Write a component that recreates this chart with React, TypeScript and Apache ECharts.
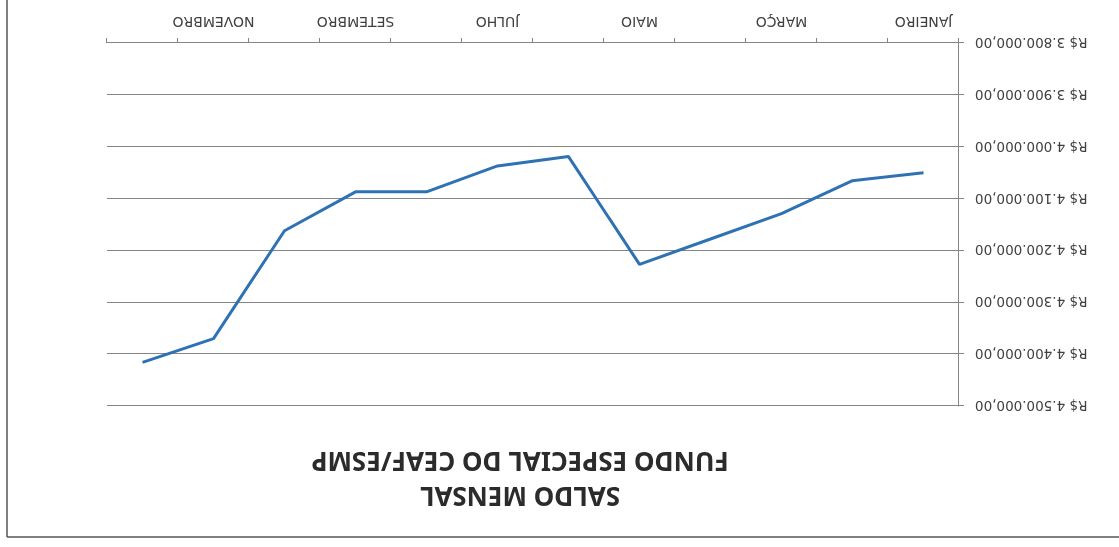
import React, { useEffect, useRef } from "react";
import * as echarts from "echarts";

const months = [
  "JANEIRO", "FEVEREIRO", "MARÇO", "ABRIL", "MAIO", "JUNHO",
  "JULHO", "AGOSTO", "SETEMBRO", "OUTUBRO", "NOVEMBRO", "DEZEMBRO",
];
const saldo = [
  4050000, 4065500, 4129000, 4178000, 4227000, 4019000,
  4037000, 4087000, 4087000, 4162000, 4370000, 4416000,
];
const titleLines = ["SALDO MENSAL", "FUNDO ESPECIAL DO CEAF/ESMP"];
const yMin = 3800000;
const yMax = 4500000;
const yStep = 100000;

function fmtBRL(v: number): string {
  const s = Math.round(v).toString();
  const withDots = s.replace(/\B(?=(\d{3})+(?!\d))/g, ".");
  return "R$ " + withDots + ",00";
}

export default function App() {
  const ref = useRef<HTMLDivElement>(null);
  useEffect(() => {
    if (!ref.current) return;
    const chart = echarts.init(ref.current, undefined, { renderer: "svg" });
    const axisGray = "#858585";
    chart.setOption({
      animation: false,
      backgroundColor: "#ffffff",
      grid: { left: 160, right: 107, top: 141, bottom: 43, containLabel: false },
      xAxis: {
        type: "category",
        data: months,
        boundaryGap: true,
        axisLine: { show: true, lineStyle: { color: axisGray, width: 1 } },
        axisTick: { show: true, length: 5, interval: 0, lineStyle: { color: axisGray } },
        axisLabel: {
          interval: 1,
          margin: 14,
          color: "#404040",
          fontSize: 14,
          fontFamily: "DejaVu Sans",
        },
        splitLine: { show: false },
      },
      yAxis: {
        type: "value",
        min: yMin,
        max: yMax,
        interval: yStep,
        axisLine: { show: true, lineStyle: { color: axisGray, width: 1 } },
        axisTick: { show: true, length: 5, lineStyle: { color: axisGray } },
        axisLabel: {
          margin: 16,
          color: "#404040",
          fontSize: 13.5,
          fontFamily: "DejaVu Sans",
          formatter: (v: number) => fmtBRL(v),
        },
        splitLine: { show: true, lineStyle: { color: axisGray, width: 1 } },
      },
      series: [
        {
          type: "line",
          data: saldo,
          symbol: "none",
          lineStyle: { color: "#2f72b4", width: 3 },
        },
      ],
      graphic: [
        {
          type: "text",
          x: 599,
          y: 50,
          style: {
            text: titleLines[0],
            fill: "#2b2b2b",
            font: "bold 26px 'Noto Sans'",
            textAlign: "center",
            textVerticalAlign: "middle",
          },
        },
        {
          type: "text",
          x: 599,
          y: 85,
          style: {
            text: titleLines[1],
            fill: "#2b2b2b",
            font: "bold 26px 'Noto Sans'",
            textAlign: "center",
            textVerticalAlign: "middle",
          },
        },
        {
          type: "line",
          shape: { x1: 1112, y1: 10, x2: 1112, y2: 547 },
          style: { stroke: "#555555", lineWidth: 1.5 },
        },
        {
          type: "line",
          shape: { x1: 0, y1: 10, x2: 1112, y2: 10 },
          style: { stroke: "#555555", lineWidth: 1.5 },
        },
      ],
    });
    return () => chart.dispose();
  }, []);
  return (
    <div
      ref={ref}
      style={{
        position: "fixed",
        left: 0,
        top: 0,
        width: 1119,
        height: 547,
        background: "#ffffff",
        transform: "rotate(180deg)",
      }}
    />
  );
}
